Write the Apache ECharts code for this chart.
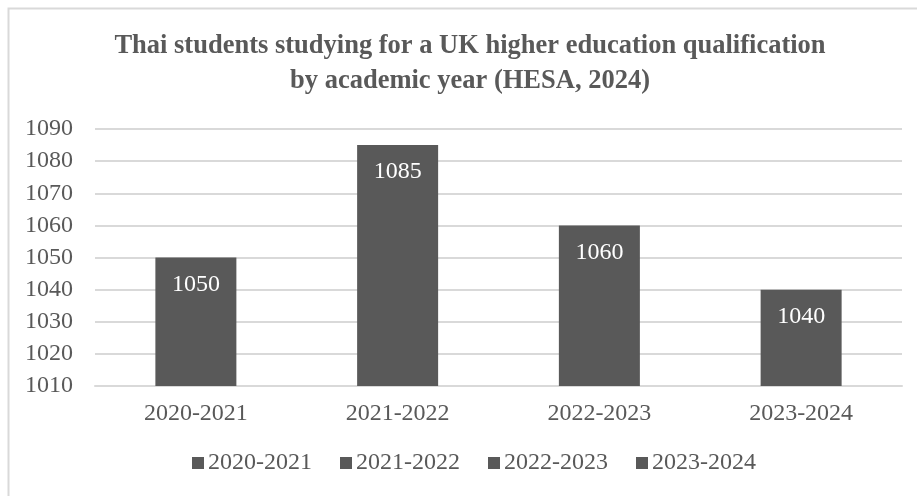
<!DOCTYPE html>
<html>
<head>
<meta charset="utf-8">
<script src="https://cdn.jsdelivr.net/npm/echarts@6/dist/echarts.min.js"></script>
<style>
  html, body { margin: 0; padding: 0; background: #fff; }
  #chart { width: 917px; height: 496px; }
</style>
</head>
<body>
<div id="chart"></div>
<script>
// Academic years shown on the category axis and in the legend
const years = ['2020-2021', '2021-2022', '2022-2023', '2023-2024'];
// Thai students enrolled per academic year
const students = [1050, 1085, 1060, 1040];
// Value axis range and step
const yMin = 1010;
const yMax = 1090;
const yStep = 10;

const titleText = 'Thai students studying for a UK higher education qualification\nby academic year (HESA, 2024)';

const serif = '"Liberation Serif", "Times New Roman", serif';
const grey = '#595959';

// One series per year so each year gets its own legend entry;
// stacking keeps every bar centred on its category.
const series = years.map((name, i) => ({
  name: name,
  type: 'bar',
  stack: 'year',
  barWidth: 81,
  itemStyle: { color: grey },
  data: students.map((v, j) => (j === i ? v : '-')),
  label: {
    show: true,
    position: 'insideTop',
    distance: 15,
    color: '#ffffff',
    fontFamily: serif,
    fontSize: 24
  }
}));

const chart = echarts.init(document.getElementById('chart'));
chart.setOption({
  animation: false,
  backgroundColor: '#ffffff',
  title: {
    text: titleText,
    left: 465,
    textAlign: 'center',
    top: 24,
    textStyle: {
      fontFamily: serif,
      fontWeight: 'bold',
      fontSize: 26.5,
      lineHeight: 35,
      color: grey
    }
  },
  graphic: [{
    type: 'rect',
    shape: { x: 8.5, y: 8.5, width: 940, height: 520 },
    style: { fill: 'none', stroke: '#d9d9d9', lineWidth: 2 },
    silent: true
  }],
  legend: {
    data: years,
    bottom: 16,
    left: 187,
    icon: 'rect',
    itemWidth: 12,
    itemHeight: 12,
    itemGap: 28,
    textStyle: { fontFamily: serif, fontSize: 24, color: grey, padding: [0, 0, 0, -1] }
  },
  grid: { left: 95, right: 15, top: 129, bottom: 110 },
  xAxis: {
    type: 'category',
    data: years,
    axisLine: { lineStyle: { color: '#d9d9d9', width: 2 } },
    axisTick: { show: false },
    axisLabel: { fontFamily: serif, fontSize: 24, color: grey, margin: 16 }
  },
  yAxis: {
    type: 'value',
    min: yMin,
    max: yMax,
    interval: yStep,
    axisLine: { show: false },
    axisTick: { show: false },
    splitLine: { lineStyle: { color: '#d9d9d9', width: 2 } },
    axisLabel: {
      fontFamily: serif,
      fontSize: 24,
      color: grey,
      margin: 22,
      formatter: (v) => String(v)
    }
  },
  series: series
});
</script>
</body>
</html>
